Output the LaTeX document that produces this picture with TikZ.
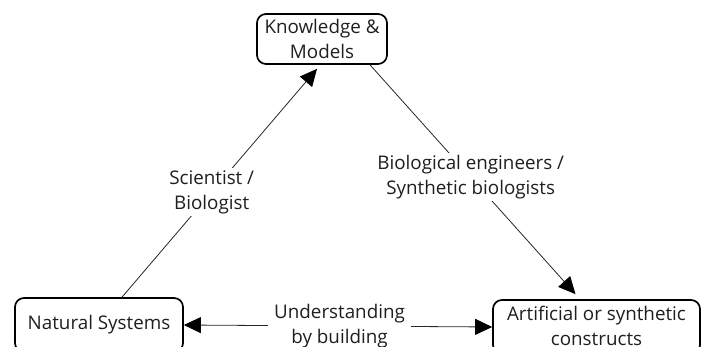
\documentclass[tikz,border=0pt]{standalone}
\usepackage{fontspec}
\setmainfont{Open Sans}
\usetikzlibrary{arrows.meta,calc}

\begin{document}
\begin{tikzpicture}[x=1pt,y=-1pt,
  txt/.style={text=black!88, font=\fontsize{18.8}{25.5}\selectfont, align=center},
  box/.style={txt, draw=black, line width=1.7pt, rounded corners=9pt, inner sep=0pt},
  conn/.style={draw=black!85, line width=0.8pt},
  tip/.style={-{Triangle[length=17pt,width=16pt,color=black]}},
  lbl/.style={txt, fill=white, inner sep=2pt}]
  \useasboundingbox (0,0) rectangle (703,347);
  \clip (0,0) rectangle (703,347);

  % boxes
  \node[box, minimum width=130pt, minimum height=50pt] (km) at (322,39) {Knowledge \&\\Models};
  \node[box, minimum width=168pt, minimum height=54pt] (ns) at (99,325) {Natural Systems};
  \node[box, minimum width=207pt, minimum height=54pt] (ac) at (596.5,327) {};
  \node[txt] (actext) at (596.5,326) {Artificial or synthetic\\constructs};

  % connectors
  \draw[conn, tip] ($(ns.north)+(23,0)$) -- ($(km.south)+(-5,4)$)
    node[lbl, pos=0.46] (sci) {Scientist /\\Biologist};
  \draw[conn, tip] ($(km.south)+(48,0)$) -- ($(ac.north)+(-21,-5)$)
    node[lbl, pos=0.49] (eng) {Biological engineers /\\Synthetic biologists};
  \draw[conn, {Triangle[length=17pt,width=16pt,color=black]}-{Triangle[length=17pt,width=16pt,color=black]}] (ns.east) -- (ac.west)
    node[lbl, pos=0.505, inner xsep=6pt] (ubb) {Understanding\\by building};
\end{tikzpicture}
\end{document}
